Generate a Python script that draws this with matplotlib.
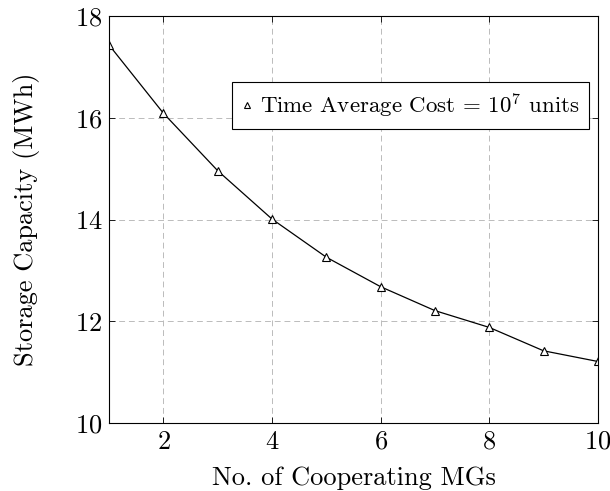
import matplotlib
matplotlib.use("Agg")
import matplotlib.pyplot as plt

# values
num_mgs = [1, 2, 3, 4, 5, 6, 7, 8, 9, 10]
storage_mwh = [17.43, 16.09, 14.96, 14.01, 13.26, 12.68, 12.21, 11.88, 11.42, 11.21]
x_ticks = [2, 4, 6, 8, 10]
y_ticks = [10, 12, 14, 16, 18]

plt.rcParams['font.family'] = ['cmr10', 'DejaVu Serif']
plt.rcParams['mathtext.fontset'] = 'cm'
plt.rcParams['axes.formatter.use_mathtext'] = True

fig = plt.figure(figsize=(6.10, 4.91), dpi=100)
ax = fig.add_axes([0.179, 0.1385, 0.801, 0.8285])

ax.plot(num_mgs, storage_mwh, color='black', linewidth=0.9, marker='^',
        markersize=6, markerfacecolor='white', markeredgecolor='black',
        markeredgewidth=0.8, label=r'Time Average Cost = $10^7$ units')

ax.set_xlim(1, 10)
ax.set_ylim(10, 18)
ax.set_xticks(x_ticks)
ax.set_yticks(y_ticks)
ax.tick_params(direction='in', top=True, right=True, length=4, width=0.6,
               labelsize=19, pad=5)
ax.grid(True, color='#bbbbbb', linestyle=(0, (6, 4)), linewidth=0.7)
for sp in ax.spines.values():
    sp.set_linewidth(0.8)

ax.set_xlabel('No. of Cooperating MGs', fontsize=19, labelpad=9)
ax.set_ylabel('Storage Capacity (MWh)', fontsize=19, labelpad=25)

leg = ax.legend(loc='upper right', bbox_to_anchor=(0.982, 0.838), fontsize=16.5,
                fancybox=False, framealpha=1, edgecolor='black',
                handlelength=0.5, handletextpad=0.3, borderpad=0.4,
                borderaxespad=0, markerscale=0.7)
leg.get_frame().set_linewidth(0.8)
for h in leg.legend_handles:
    h.set_linestyle('None')

fig.savefig('out.png', dpi=100)
